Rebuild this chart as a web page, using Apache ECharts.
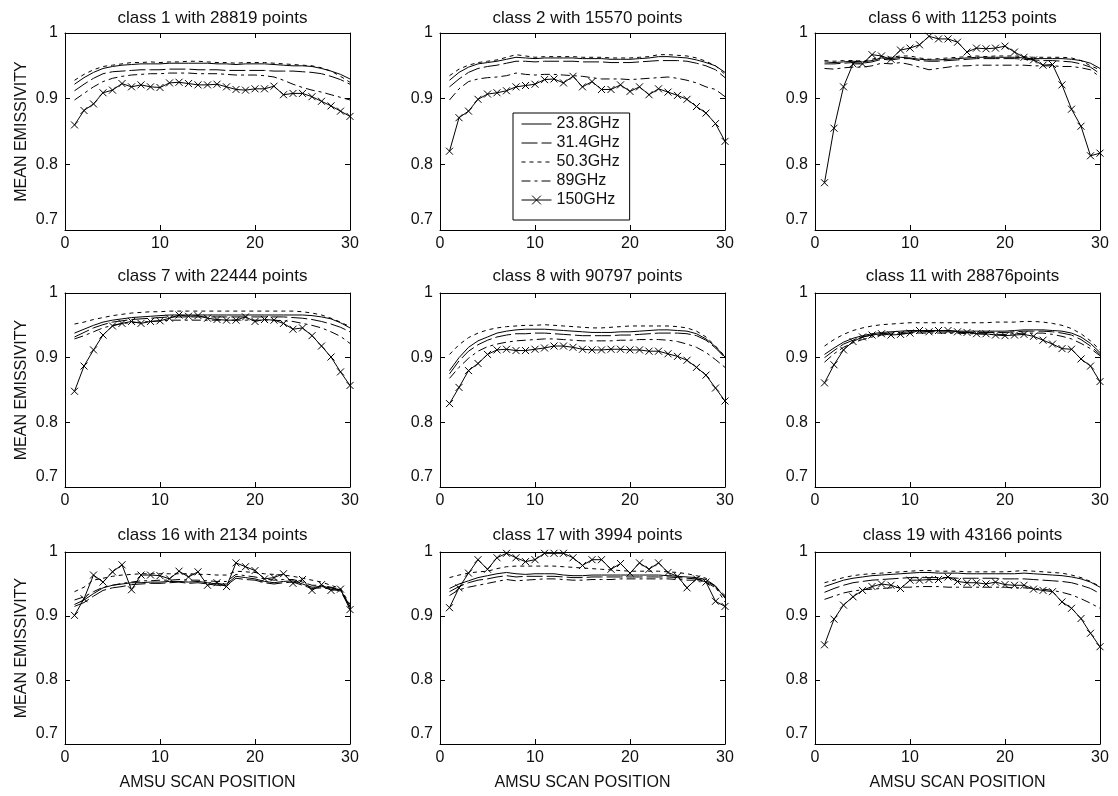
<!DOCTYPE html>
<html>
<head>
<meta charset="utf-8">
<script src="https://cdn.jsdelivr.net/npm/echarts@6/dist/echarts.min.js"></script>
<style>
html,body{margin:0;padding:0;background:#fff;}
#main{width:1118px;height:796px;}
</style>
</head>
<body>
<div id="main"></div>
<script>
// ---------------- DATA ----------------
const scanPositions = [1,2,3,4,5,6,7,8,9,10,11,12,13,14,15,16,17,18,19,20,21,22,23,24,25,26,27,28,29,30];
const channelNames = ['23.8GHz','31.4GHz','50.3GHz','89GHz','150GHz'];
const panelTitles = ['class 1 with 28819 points','class 2 with 15570 points','class 6 with 11253 points',
  'class 7 with 22444 points','class 8 with 90797 points','class 11 with 28876points',
  'class 16 with 2134 points','class 17 with 3994 points','class 19 with 43166 points'];
const yTicks = [0.7,0.8,0.9,1];
const xTicks = [0,10,20,30];

// class 1
const c1_238 = [.922,.932,.940,.946,.949,.951,.952,.953,.953,.953,.954,.954,.954,.954,.954,.953,.953,.952,.953,.953,.953,.952,.951,.950,.950,.949,.946,.942,.937,.930];
const c1_314 = [.912,.922,.931,.938,.941,.942,.943,.944,.944,.944,.945,.945,.945,.944,.944,.944,.943,.943,.943,.943,.943,.942,.942,.942,.941,.940,.938,.934,.929,.922];
const c1_503 = [.928,.937,.944,.949,.951,.953,.955,.955,.956,.955,.956,.956,.957,.957,.956,.955,.955,.954,.955,.955,.955,.954,.953,.952,.951,.950,.947,.942,.934,.925];
const c1_89  = [.898,.908,.918,.926,.931,.934,.936,.937,.938,.938,.939,.939,.939,.938,.938,.938,.937,.936,.936,.936,.935,.933,.928,.922,.917,.913,.910,.906,.902,.898];
const c1_150 = [.860,.882,.892,.909,.913,.923,.918,.921,.918,.917,.924,.925,.923,.921,.921,.922,.918,.914,.913,.915,.915,.919,.906,.908,.908,.903,.896,.889,.881,.873];
// class 2
const c2_238 = [.928,.940,.948,.953,.955,.957,.960,.963,.962,.961,.962,.962,.962,.962,.961,.961,.961,.960,.960,.960,.961,.962,.964,.964,.963,.962,.959,.955,.950,.940];
const c2_314 = [.918,.930,.940,.946,.949,.951,.954,.957,.957,.956,.957,.957,.957,.957,.956,.956,.956,.955,.955,.955,.956,.957,.958,.958,.958,.957,.954,.950,.944,.932];
const c2_503 = [.935,.945,.951,.955,.957,.959,.963,.967,.965,.963,.964,.964,.964,.964,.963,.963,.963,.962,.962,.962,.963,.964,.967,.967,.966,.965,.962,.957,.950,.937];
const c2_89  = [.898,.915,.926,.930,.932,.933,.935,.939,.937,.936,.937,.937,.936,.935,.934,.932,.930,.930,.930,.929,.930,.931,.932,.933,.931,.928,.924,.918,.914,.903];
const c2_150 = [.820,.871,.881,.899,.907,.909,.912,.918,.920,.922,.929,.930,.924,.934,.918,.926,.914,.914,.921,.911,.918,.906,.915,.910,.905,.899,.888,.878,.862,.835];
// class 6
const c6_238 = [.956,.955,.956,.957,.956,.958,.962,.961,.963,.962,.960,.959,.959,.960,.961,.962,.963,.963,.963,.963,.963,.962,.961,.961,.961,.961,.960,.958,.954,.946];
const c6_314 = [.953,.953,.954,.955,.954,.956,.960,.959,.961,.961,.958,.957,.957,.958,.959,.960,.961,.961,.961,.961,.961,.960,.959,.958,.958,.957,.956,.953,.948,.938];
const c6_503 = [.958,.957,.958,.958,.957,.960,.964,.963,.965,.965,.962,.960,.961,.962,.963,.964,.965,.964,.965,.965,.965,.964,.963,.963,.963,.963,.962,.958,.950,.944];
const c6_89  = [.946,.945,.947,.948,.948,.950,.954,.953,.955,.952,.948,.944,.946,.948,.950,.950,.951,.951,.951,.951,.951,.951,.950,.950,.950,.949,.949,.947,.944,.933];
const c6_150 = [.772,.855,.918,.953,.953,.967,.965,.960,.974,.977,.982,.995,.991,.991,.986,.971,.977,.976,.977,.980,.971,.963,.959,.951,.952,.921,.884,.858,.813,.817];
// class 7
const c7_238 = [.938,.944,.950,.955,.958,.960,.962,.963,.964,.965,.966,.966,.966,.966,.966,.966,.966,.966,.966,.966,.966,.966,.966,.966,.966,.965,.963,.960,.954,.946];
const c7_314 = [.932,.939,.946,.951,.955,.957,.959,.960,.961,.962,.963,.963,.963,.963,.963,.963,.963,.963,.963,.963,.963,.963,.963,.962,.961,.959,.956,.952,.947,.940];
const c7_503 = [.952,.955,.959,.962,.965,.967,.969,.970,.971,.971,.972,.972,.972,.972,.972,.972,.972,.972,.972,.972,.972,.972,.972,.972,.971,.969,.966,.961,.955,.948];
const c7_89  = [.929,.934,.940,.946,.950,.953,.954,.955,.956,.957,.958,.958,.958,.958,.958,.958,.958,.958,.958,.958,.958,.958,.957,.956,.953,.950,.946,.940,.933,.922];
const c7_150 = [.848,.887,.912,.935,.949,.953,.956,.953,.956,.957,.961,.966,.964,.965,.961,.959,.958,.958,.963,.956,.959,.958,.953,.944,.946,.934,.918,.901,.878,.857];
// class 8
const c8_238 = [.880,.900,.916,.926,.932,.938,.941,.943,.944,.944,.944,.943,.942,.941,.940,.939,.939,.939,.940,.940,.941,.942,.943,.943,.942,.941,.937,.929,.917,.901];
const c8_314 = [.875,.895,.910,.920,.927,.932,.935,.937,.937,.938,.938,.937,.936,.935,.934,.934,.934,.934,.935,.935,.936,.937,.938,.938,.938,.937,.934,.927,.915,.900];
const c8_503 = [.905,.920,.931,.938,.943,.946,.948,.949,.950,.950,.951,.950,.949,.948,.947,.946,.946,.947,.948,.949,.949,.949,.949,.949,.948,.946,.941,.932,.918,.902];
const c8_89  = [.868,.885,.899,.910,.917,.921,.924,.926,.927,.928,.929,.929,.928,.927,.926,.926,.926,.926,.927,.927,.928,.928,.928,.927,.925,.921,.916,.908,.897,.885];
const c8_150 = [.829,.854,.880,.891,.905,.912,.913,.911,.911,.913,.915,.918,.918,.916,.913,.912,.912,.913,.913,.912,.912,.910,.910,.906,.902,.896,.885,.873,.853,.833];
// class 11
const c11_238 = [.905,.915,.924,.930,.934,.937,.939,.940,.941,.942,.942,.942,.942,.942,.941,.941,.941,.941,.941,.941,.942,.943,.943,.943,.942,.941,.938,.932,.922,.908];
const c11_314 = [.900,.911,.921,.927,.932,.935,.937,.938,.939,.940,.940,.940,.940,.940,.939,.939,.939,.939,.939,.939,.940,.941,.941,.941,.940,.938,.935,.928,.918,.905];
const c11_503 = [.918,.928,.936,.942,.946,.949,.951,.952,.953,.954,.954,.954,.954,.954,.954,.954,.954,.954,.955,.955,.955,.956,.956,.955,.953,.950,.945,.937,.926,.912];
const c11_89  = [.893,.906,.916,.923,.928,.932,.935,.936,.937,.938,.938,.938,.938,.938,.938,.937,.937,.936,.936,.936,.937,.938,.938,.938,.936,.933,.929,.922,.914,.903];
const c11_150 = [.861,.889,.912,.925,.932,.935,.937,.935,.936,.938,.942,.940,.942,.942,.940,.939,.937,.937,.935,.934,.935,.936,.933,.927,.921,.914,.913,.898,.887,.863];
// class 16
const c16_238 = [.918,.925,.935,.944,.948,.950,.952,.952,.953,.953,.954,.954,.953,.954,.952,.950,.950,.962,.960,.958,.954,.952,.954,.955,.950,.945,.946,.944,.941,.915];
const c16_314 = [.915,.921,.931,.940,.944,.946,.949,.950,.951,.951,.952,.953,.951,.952,.950,.948,.948,.959,.957,.956,.952,.950,.952,.953,.948,.943,.944,.942,.939,.913];
const c16_503 = [.938,.945,.956,.959,.962,.964,.965,.966,.966,.966,.966,.966,.966,.965,.965,.964,.964,.970,.969,.968,.966,.965,.964,.962,.959,.956,.953,.948,.943,.918];
const c16_89  = [.925,.930,.938,.945,.948,.951,.953,.955,.955,.956,.956,.957,.956,.956,.955,.954,.954,.965,.963,.961,.958,.956,.957,.957,.953,.948,.948,.945,.941,.915];
const c16_150 = [.901,.927,.964,.953,.969,.980,.941,.964,.964,.963,.958,.970,.961,.969,.948,.952,.946,.983,.977,.971,.958,.960,.966,.951,.957,.940,.949,.940,.942,.910];
// class 17
const c17_238 = [.943,.950,.955,.960,.963,.966,.968,.966,.965,.966,.966,.966,.964,.963,.963,.964,.964,.964,.964,.964,.964,.964,.964,.963,.962,.961,.960,.957,.947,.928];
const c17_314 = [.938,.946,.952,.956,.958,.961,.963,.961,.962,.962,.962,.962,.961,.960,.960,.961,.961,.961,.961,.961,.961,.961,.961,.961,.960,.959,.958,.955,.946,.932];
const c17_503 = [.960,.964,.967,.969,.970,.974,.977,.978,.978,.978,.978,.978,.977,.976,.975,.974,.973,.972,.971,.970,.970,.970,.970,.969,.968,.966,.963,.959,.945,.922];
const c17_89  = [.932,.941,.945,.948,.951,.954,.957,.955,.956,.957,.958,.958,.957,.956,.956,.957,.957,.957,.958,.958,.958,.958,.958,.958,.957,.956,.956,.953,.944,.930];
const c17_150 = [.913,.944,.967,.988,.973,.991,.998,.991,.985,.988,.998,.998,.998,.991,.979,.988,.988,.973,.982,.967,.983,.973,.983,.968,.962,.944,.958,.953,.923,.915];
// class 19
const c19_238 = [.946,.951,.956,.959,.961,.963,.964,.965,.966,.967,.968,.968,.967,.967,.967,.966,.966,.966,.966,.966,.966,.967,.966,.965,.964,.963,.961,.958,.953,.945];
const c19_314 = [.937,.943,.948,.952,.954,.956,.957,.958,.959,.960,.960,.960,.960,.960,.959,.959,.959,.959,.959,.958,.958,.958,.957,.956,.955,.954,.952,.948,.943,.935];
const c19_503 = [.952,.956,.960,.963,.965,.966,.967,.968,.969,.970,.971,.971,.970,.970,.970,.969,.969,.969,.969,.969,.970,.971,.970,.969,.968,.967,.964,.960,.954,.946];
const c19_89  = [.926,.931,.936,.939,.941,.942,.943,.944,.945,.945,.946,.946,.946,.945,.945,.945,.945,.945,.945,.945,.944,.944,.943,.942,.940,.937,.933,.927,.920,.912];
const c19_150 = [.855,.895,.917,.930,.940,.946,.950,.948,.943,.956,.956,.957,.957,.961,.954,.952,.952,.950,.953,.949,.948,.948,.942,.940,.938,.922,.912,.896,.873,.852];

const panelData = [
  [c1_238,c1_314,c1_503,c1_89,c1_150],
  [c2_238,c2_314,c2_503,c2_89,c2_150],
  [c6_238,c6_314,c6_503,c6_89,c6_150],
  [c7_238,c7_314,c7_503,c7_89,c7_150],
  [c8_238,c8_314,c8_503,c8_89,c8_150],
  [c11_238,c11_314,c11_503,c11_89,c11_150],
  [c16_238,c16_314,c16_503,c16_89,c16_150],
  [c17_238,c17_314,c17_503,c17_89,c17_150],
  [c19_238,c19_314,c19_503,c19_89,c19_150]
];

// ---------------- LAYOUT / STYLE ----------------
const FONT = '"Liberation Sans", Arial, sans-serif';
const colLeft = [65, 440, 815];
const rowTop = [33, 293, 552];
const rowH = [197, 194, 192];
const plotW = 285;
const titleTop = [5, 263, 522];

const lineStyles = [
  {type:'solid'},
  {type:[16,4]},
  {type:[4,4]},
  {type:[9,4,3,4]},
  {type:'solid'}
];

const grids = [], xAxes = [], yAxes = [], titles = [], series = [];
for (let g = 0; g < 9; g++) {
  const r = Math.floor(g / 3), c = g % 3;
  grids.push({left: colLeft[c], top: rowTop[r], width: plotW, height: rowH[r], containLabel: false});
  titles.push({
    text: panelTitles[g], left: colLeft[c] + plotW / 2, top: titleTop[r], textAlign: 'center',
    textStyle: {fontFamily: FONT, fontSize: 17, fontWeight: 'normal', color: '#111'}
  });
  const axisCommon = {
    min: 0, max: 30, interval: 10, gridIndex: g, type: 'value',
    axisLine: {show: true, onZero: false, lineStyle: {color: '#000', width: 1}},
    axisTick: {show: true, inside: true, length: 5, lineStyle: {color: '#000'}},
    splitLine: {show: false}
  };
  xAxes.push(Object.assign({}, axisCommon, {
    position: 'bottom',
    axisLabel: {show: true, fontFamily: FONT, fontSize: 16, color: '#111', margin: 6,
      formatter: v => (xTicks.indexOf(v) >= 0 ? String(v) : '')},
    name: r === 2 ? 'AMSU SCAN POSITION' : '',
    nameLocation: 'middle', nameGap: 31,
    nameTextStyle: {fontFamily: FONT, fontSize: 16, color: '#111'}
  }));
  xAxes.push(Object.assign({}, axisCommon, {position: 'top', axisLabel: {show: false}}));
  const yCommon = {
    min: 0.7, max: 1, interval: 0.1, gridIndex: g, type: 'value',
    axisLine: {show: true, onZero: false, lineStyle: {color: '#000', width: 1}},
    axisTick: {show: true, inside: true, length: 5, lineStyle: {color: '#000'}},
    splitLine: {show: false}
  };
  yAxes.push(Object.assign({}, yCommon, {
    position: 'left',
    axisLabel: {show: true, fontFamily: FONT, fontSize: 16, color: '#111', margin: 7,
      formatter: v => {
        const s = String(+v.toFixed(1));
        return Math.abs(v - yTicks[0]) < 1e-6 ? '{lo|' + s + '}' : s;
      },
      rich: {lo: {fontFamily: FONT, fontSize: 16, color: '#111', padding: [0, 0, 20, 0]}}
    },
    name: c === 0 ? 'MEAN EMISSIVITY' : '',
    nameLocation: 'middle', nameGap: 35, nameRotate: 90,
    nameTextStyle: {fontFamily: FONT, fontSize: 16, color: '#111'}
  }));
  yAxes.push(Object.assign({}, yCommon, {position: 'right', axisLabel: {show: false}}));

  for (let k = 0; k < 5; k++) {
    const vals = panelData[g][k];
    const s = {
      type: 'line', name: channelNames[k],
      xAxisIndex: 2 * g, yAxisIndex: 2 * g,
      data: scanPositions.map((p, i) => [p, vals[i]]),
      lineStyle: Object.assign({color: '#000', width: 1}, lineStyles[k]),
      itemStyle: {color: '#000'},
      symbol: 'none', silent: true, animation: false, z: 2 + k
    };
    if (k === 4) {
      s.symbol = 'path://M0,0L10,10M0,10L10,0';
      s.symbolSize = 7;
      s.showSymbol = true;
      s.itemStyle = {color: '#000', borderColor: '#000', borderWidth: 1};
    }
    series.push(s);
  }
}

const hiddenMark = {opacity: 0, color: 'transparent', borderWidth: 0};
const chart = echarts.init(document.getElementById('main'), null, {renderer: 'canvas'});
chart.setOption({
  backgroundColor: '#fff',
  animation: false,
  title: titles,
  grid: grids,
  xAxis: xAxes,
  yAxis: yAxes,
  legend: {
    data: channelNames.map((n, k) => k < 4 ? {name: n, itemStyle: hiddenMark} : {name: n}),
    orient: 'vertical',
    left: 513, top: 113,
    backgroundColor: '#fff',
    borderColor: '#000', borderWidth: 1,
    padding: [3, 10, 12, 8],
    itemWidth: 30, itemHeight: 11, itemGap: 3,
    selectedMode: false,
    lineStyle: {width: 1},
    itemStyle: {borderWidth: 1},
    textStyle: {fontFamily: FONT, fontSize: 16, color: '#111', lineHeight: 16},
    z: 20
  },
  series: series
});
</script>
</body>
</html>
